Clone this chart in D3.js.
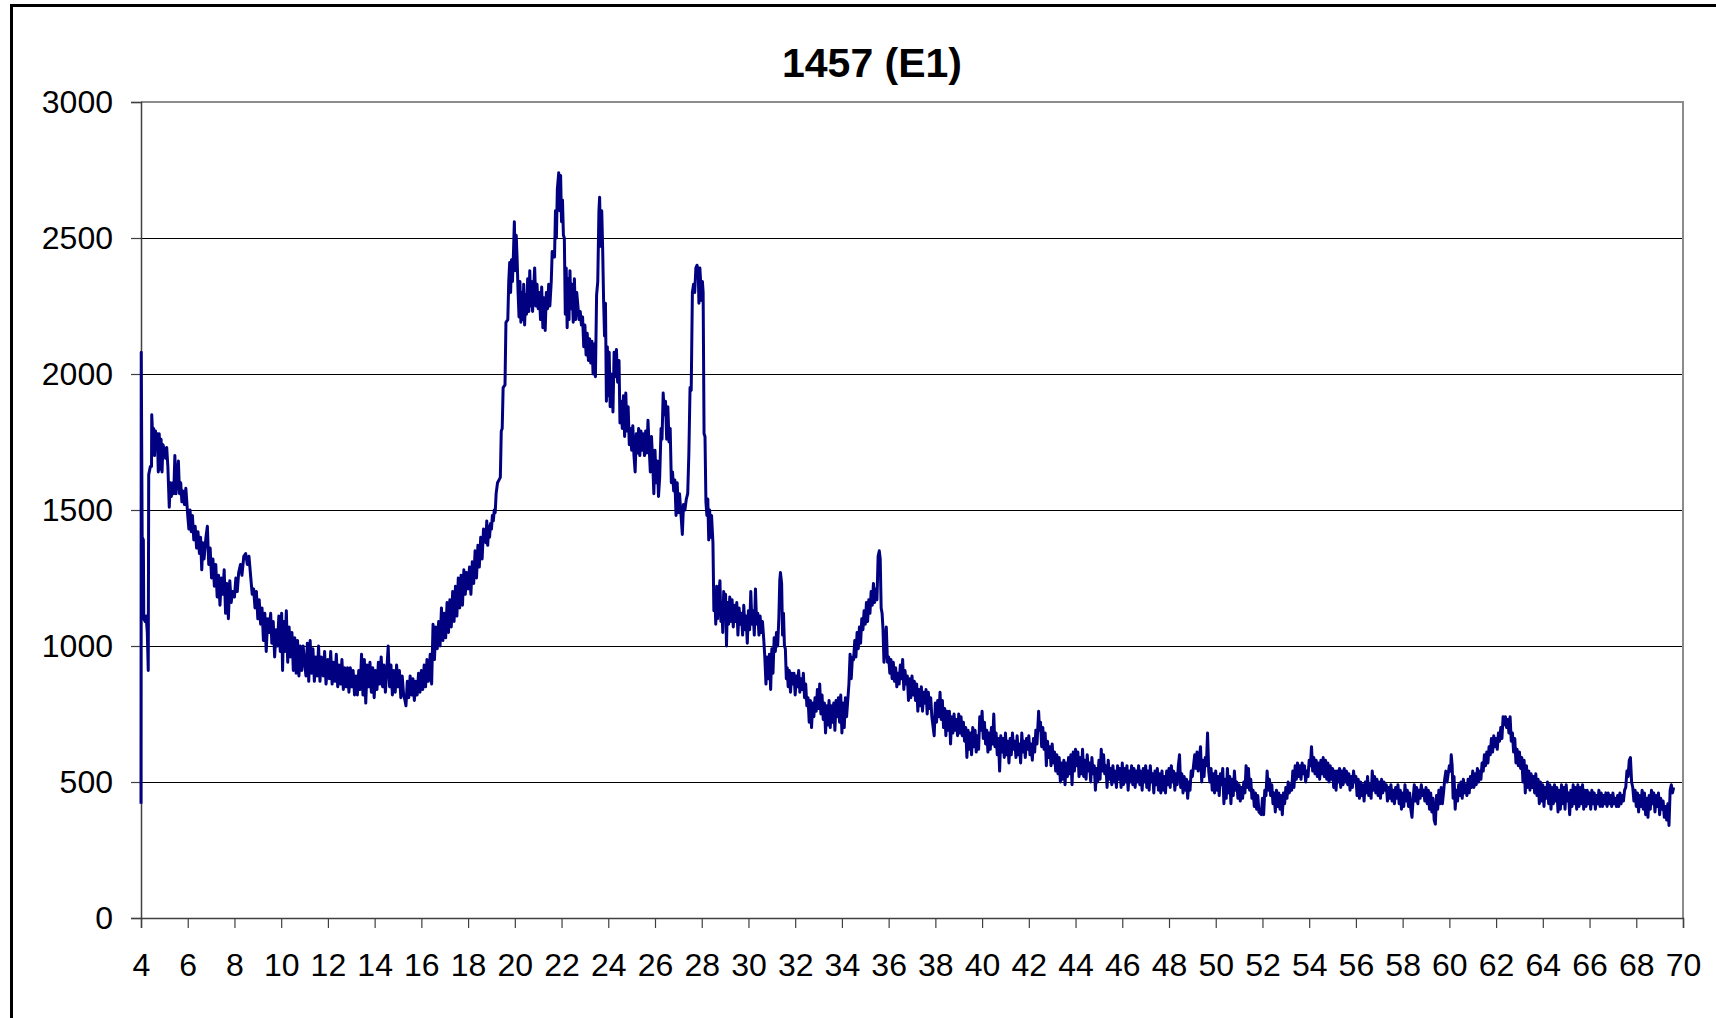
<!DOCTYPE html>
<html lang="en">
<head>
  <meta charset="utf-8">
  <title>1457 (E1)</title>
  <script src="https://cdn.jsdelivr.net/npm/d3@7"></script>
  <style>
    body { margin: 0; background: #fff; font-family: "Liberation Sans", Arial, sans-serif; }
  </style>
</head>
<body>
<div id="chart"></div>
<script>

const w = 1716;
const h = 1018;

// diffractogram: [2theta, counts]
const scan04to10 = [
  [4.00,420],[4.01,2080],[4.05,1400],[4.10,1390],[4.12,1100],[4.18,1090],[4.22,1110],[4.27,1050],[4.31,910],
  [4.33,1630],[4.40,1660],[4.45,1660],[4.46,1850],[4.50,1770],[4.54,1800],[4.58,1700],[4.62,1790],[4.66,1750],
  [4.70,1780],[4.74,1640],[4.78,1780],[4.82,1650],[4.86,1760],[4.90,1640],[4.94,1740],[5.00,1720],[5.05,1690],
  [5.10,1730],[5.15,1660],[5.21,1510],[5.25,1600],[5.30,1550],[5.36,1600],[5.40,1560],[5.45,1700],[5.50,1560],
  [5.55,1620],[5.60,1680],[5.65,1560],[5.70,1600],[5.75,1530],[5.80,1570],[5.86,1520],[5.92,1580],[6.00,1480],
  [6.05,1430],[6.10,1500],[6.15,1420],[6.20,1480],[6.26,1390],[6.32,1440],[6.38,1360],[6.44,1420],[6.50,1340],
  [6.55,1400],[6.60,1280],[6.65,1380],[6.70,1320],[6.78,1400],[6.84,1440],[6.90,1300],[6.96,1360],[7.02,1250],
  [7.08,1320],[7.14,1220],[7.20,1300],[7.26,1180],[7.32,1260],[7.38,1150],[7.44,1250],[7.50,1190],[7.56,1280],
  [7.62,1120],[7.68,1230],[7.74,1100],[7.80,1240],[7.86,1160],[7.92,1200],[8.00,1180],[8.06,1250],[8.12,1200],
  [8.18,1270],[8.26,1300],[8.32,1260],[8.40,1330],[8.48,1340],[8.55,1300],[8.62,1330],[8.70,1250],[8.76,1190],
  [8.82,1210],[8.88,1140],[8.94,1200],[9.00,1100],[9.06,1170],[9.12,1080],[9.18,1140],[9.24,1020],[9.30,1120],
  [9.36,980],[9.42,1100],[9.48,1050],[9.55,1120],[9.60,1010],[9.66,1090],[9.72,960],[9.78,1060],[9.84,1000],
  [9.90,1110],[9.96,980]
];

const scan10to19 = [
  [10.02,1120],[10.06,910],[10.10,1090],[10.16,980],[10.22,1130],[10.28,940],[10.34,1070],[10.40,960],
  [10.46,1050],[10.52,910],[10.58,1030],[10.64,900],[10.70,1020],[10.76,890],[10.82,1000],[10.88,910],
  [10.94,1000],[11.00,940],[11.06,890],[11.12,1010],[11.18,870],[11.24,1020],[11.30,900],[11.36,990],
  [11.42,870],[11.48,960],[11.54,890],[11.60,1000],[11.66,870],[11.72,960],[11.80,890],[11.86,980],[11.92,860],
  [12.00,950],[12.06,880],[12.12,980],[12.18,860],[12.24,940],[12.30,870],[12.36,970],[12.42,850],[12.48,930],
  [12.54,860],[12.60,950],[12.66,840],[12.72,920],[12.78,850],[12.84,920],[12.90,830],[12.96,920],[13.02,850],
  [13.08,910],[13.14,820],[13.20,890],[13.26,820],[13.32,910],[13.38,840],[13.44,970],[13.50,820],[13.56,950],
  [13.62,790],[13.68,930],[13.74,850],[13.80,940],[13.86,830],[13.92,920],[13.98,810],[14.04,910],[14.10,840],
  [14.16,940],[14.22,860],[14.28,960],[14.34,850],[14.40,930],[14.46,830],[14.52,910],[14.58,1000],[14.64,850],
  [14.70,930],[14.76,820],[14.82,910],[14.88,830],[14.94,930],[15.00,850],[15.06,910],[15.12,810],[15.18,890],
  [15.24,820],[15.30,800],[15.34,780],[15.40,870],[15.46,810],[15.52,890],[15.58,820],[15.64,880],[15.70,800],
  [15.76,870],[15.82,820],[15.88,900],[15.94,830],[16.00,910],[16.06,840],[16.12,930],[16.18,850],[16.24,950],
  [16.30,870],[16.38,970],[16.44,860],[16.50,1080],[16.56,950],[16.62,1070],[16.68,990],[16.74,1090],
  [16.80,1000],[16.86,1140],[16.92,1020],[16.98,1120],[17.04,1030],[17.10,1160],[17.16,1050],[17.22,1170],
  [17.28,1070],[17.34,1200],[17.40,1090],[17.46,1220],[17.52,1110],[17.58,1250],[17.64,1140],[17.70,1260],
  [17.76,1150],[17.82,1280],[17.88,1190],[17.94,1270],[18.00,1210],[18.06,1290],[18.12,1190],[18.18,1310],
  [18.24,1230],[18.30,1350],[18.36,1250],[18.42,1370],[18.48,1290],[18.54,1400],[18.60,1320],[18.66,1430]
];

const scan19to29 = [
  [18.72,1420],[18.76,1380],[18.80,1460],[18.84,1370],[18.88,1440],[18.92,1400],[18.96,1450],[19.00,1430],
  [19.04,1480],[19.08,1460],[19.12,1500],[19.16,1490],[19.20,1560],[19.26,1600],[19.32,1610],[19.38,1620],
  [19.42,1790],[19.46,1800],[19.50,1950],[19.58,1960],[19.62,2190],[19.70,2200],[19.74,2340],[19.78,2410],
  [19.82,2300],[19.86,2420],[19.90,2340],[19.94,2440],[19.98,2560],[20.02,2380],[20.06,2510],[20.10,2420],
  [20.14,2300],[20.18,2210],[20.22,2340],[20.26,2190],[20.30,2300],[20.34,2200],[20.38,2330],[20.42,2180],
  [20.46,2290],[20.50,2220],[20.55,2350],[20.60,2230],[20.64,2380],[20.68,2250],[20.72,2340],[20.76,2230],
  [20.80,2300],[20.85,2390],[20.90,2250],[20.95,2330],[21.00,2240],[21.05,2300],[21.10,2200],[21.15,2320],
  [21.20,2170],[21.25,2280],[21.30,2160],[21.35,2300],[21.40,2240],[21.45,2330],[21.50,2250],[21.56,2340],
  [21.60,2450],[21.65,2440],[21.70,2430],[21.74,2600],[21.78,2500],[21.82,2680],[21.88,2740],[21.92,2600],
  [21.96,2730],[22.00,2560],[22.04,2640],[22.08,2510],[22.12,2500],[22.16,2220],[22.20,2390],[22.24,2170],
  [22.28,2350],[22.32,2200],[22.36,2380],[22.40,2240],[22.45,2330],[22.50,2190],[22.55,2350],[22.60,2200],
  [22.65,2300],[22.70,2250],[22.75,2200],[22.80,2230],[22.85,2180],[22.90,2210],[22.95,2100],[23.00,2180],
  [23.05,2070],[23.10,2150],[23.15,2050],[23.20,2130],[23.25,2040],[23.30,2120],[23.35,2000],[23.40,2110],
  [23.45,1990],[23.50,2290],[23.55,2340],[23.60,2600],[23.63,2650],[23.67,2470],[23.72,2600],[23.76,2460],
  [23.80,2270],[23.84,2140],[23.88,2260],[23.92,1900],[23.96,2100],[24.00,1920],[24.04,2080],[24.08,1880],
  [24.12,2000],[24.16,1990],[24.20,1860],[24.25,2080],[24.30,1990],[24.35,2090],[24.40,1970],[24.46,2050],
  [24.50,1820],[24.55,1900],[24.60,1800],[24.65,1920],[24.70,1770],[24.75,1930],[24.80,1790],[24.85,1880],
  [24.90,1740],[24.95,1800],[25.00,1720],[25.05,1810],[25.10,1700],[25.15,1640],[25.20,1780],[25.25,1710],
  [25.30,1800],[25.35,1700],[25.40,1790],[25.45,1720],[25.50,1780],[25.55,1700],[25.60,1790],[25.65,1710],
  [25.70,1830],[25.75,1730],[25.80,1640],[25.85,1770],[25.90,1680],[25.95,1560],[26.00,1720],[26.05,1600],
  [26.10,1680],[26.15,1550],[26.20,1620],[26.26,1800],[26.30,1760],[26.35,1930],[26.40,1850],[26.45,1900],
  [26.50,1760],[26.55,1880],[26.60,1750],[26.65,1800],[26.70,1600],[26.75,1640],[26.80,1570],[26.85,1610],
  [26.90,1480],[26.95,1600],[27.00,1490],[27.05,1560],[27.10,1500],[27.17,1410],[27.22,1520],[27.28,1500],
  [27.34,1540],[27.40,1560],[27.45,1710],[27.50,1950],[27.55,1940],[27.60,2300],[27.65,2330],[27.70,2300],
  [27.75,2390],[27.80,2400],[27.85,2380],[27.88,2260],[27.92,2390],[27.96,2330],[28.00,2270],[28.03,2340],
  [28.06,2300],[28.10,1780],[28.14,1770],[28.18,1530],[28.22,1480],[28.26,1540],[28.30,1390],[28.34,1500],
  [28.38,1400],[28.42,1480],[28.48,1380]
];

const scan29to36 = [
  [28.52,1130],[28.56,1200],[28.60,1080],[28.64,1220],[28.68,1100],[28.72,1180],[28.78,1240],[28.82,1090],
  [28.86,1160],[28.90,1050],[28.94,1200],[28.98,1120],[29.02,1190],[29.06,1000],[29.10,1160],[29.15,1080],
  [29.20,1180],[29.25,1090],[29.30,1170],[29.35,1070],[29.40,1150],[29.45,1090],[29.50,1160],[29.55,1040],
  [29.60,1140],[29.65,1080],[29.70,1120],[29.75,1040],[29.80,1150],[29.85,1060],[29.90,1110],[29.95,1010],
  [30.00,1130],[30.05,1060],[30.10,1200],[30.15,1080],[30.20,1130],[30.25,1040],[30.30,1210],[30.35,1080],
  [30.40,1120],[30.45,1040],[30.50,1110],[30.55,1050],[30.60,1090],[30.65,1030],[30.70,960],[30.75,860],
  [30.80,960],[30.85,880],[30.90,970],[30.95,840],[31.00,990],[31.05,900],[31.10,1030],[31.15,980],[31.20,1050],
  [31.25,1000],[31.30,1100],[31.34,1240],[31.37,1270],[31.42,1230],[31.46,1040],[31.50,1120],[31.54,1000],
  [31.58,990],[31.62,880],[31.66,920],[31.70,850],[31.75,910],[31.80,830],[31.85,900],[31.90,860],[31.95,900],
  [32.00,820],[32.05,890],[32.10,850],[32.15,910],[32.20,830],[32.25,880],[32.30,840],[32.35,900],[32.40,810],
  [32.45,860],[32.50,780],[32.55,810],[32.60,720],[32.65,800],[32.70,700],[32.75,790],[32.80,740],[32.85,810],
  [32.90,760],[32.95,840],[33.00,770],[33.05,860],[33.10,750],[33.15,820],[33.20,730],[33.25,790],[33.30,680],
  [33.35,780],[33.40,710],[33.45,800],[33.50,700],[33.55,780],[33.60,720],[33.65,790],[33.70,690],[33.75,800],
  [33.80,740],[33.85,810],[33.90,720],[33.95,820],[34.00,680],[34.05,790],[34.10,700],[34.15,810],[34.20,740],
  [34.25,800],[34.30,860],[34.35,970],[34.40,880],[34.45,960],[34.50,950],[34.55,1020],[34.60,960],[34.65,1050],
  [34.70,990],[34.75,1070],[34.80,1010],[34.85,1100],[34.90,1060],[34.95,1130],[35.00,1080],[35.05,1160],
  [35.10,1090],[35.15,1170],[35.20,1120],[35.25,1200],[35.30,1150],[35.35,1230],[35.40,1160],[35.45,1210],
  [35.50,1170],[35.55,1330],[35.60,1350],[35.64,1320],[35.68,1140],[35.72,1120],[35.76,1060],[35.80,940],
  [35.85,1000],[35.90,1070],[35.95,940]
];

const scan36to48 = [
  [36.00,960],[36.05,900],[36.10,950],[36.15,880],[36.20,940],[36.25,870],[36.30,920],[36.35,850],[36.40,900],
  [36.45,860],[36.50,930],[36.55,880],[36.60,950],[36.65,840],[36.70,910],[36.75,860],[36.80,890],[36.85,800],
  [36.90,880],[36.95,810],[37.00,890],[37.05,820],[37.10,870],[37.15,800],[37.20,860],[37.25,760],[37.30,840],
  [37.35,780],[37.40,850],[37.45,760],[37.50,830],[37.55,790],[37.60,840],[37.65,750],[37.70,830],[37.75,770],
  [37.80,810],[37.85,740],[37.95,670],[38.00,790],[38.05,720],[38.10,800],[38.15,740],[38.20,830],[38.25,730],
  [38.30,800],[38.35,700],[38.40,770],[38.45,670],[38.50,760],[38.55,690],[38.60,760],[38.65,640],[38.70,740],
  [38.75,680],[38.80,750],[38.85,690],[38.90,730],[38.95,670],[39.00,750],[39.05,680],[39.10,740],[39.15,670],
  [39.20,720],[39.25,650],[39.30,700],[39.35,590],[39.40,690],[39.45,620],[39.50,680],[39.55,600],[39.60,700],
  [39.65,630],[39.70,690],[39.75,610],[39.80,670],[39.85,620],[39.90,740],[39.95,690],[40.00,760],[40.05,660],
  [40.10,720],[40.15,640],[40.20,690],[40.25,610],[40.30,680],[40.35,620],[40.40,700],[40.45,640],[40.50,750],
  [40.55,630],[40.60,680],[40.65,600],[40.70,660],[40.75,540],[40.80,670],[40.85,610],[40.90,660],[40.95,590],
  [41.00,680],[41.05,600],[41.10,650],[41.15,570],[41.20,660],[41.25,600],[41.30,680],[41.35,620],[41.40,650],
  [41.45,590],[41.50,670],[41.55,600],[41.60,640],[41.65,570],[41.70,680],[41.75,610],[41.80,650],[41.85,590],
  [41.90,660],[41.95,620],[42.00,670],[42.05,600],[42.10,640],[42.15,580],[42.20,660],[42.25,610],[42.30,690],
  [42.35,640],[42.42,760],[42.46,690],[42.50,720],[42.55,630],[42.60,700],[42.65,620],[42.70,680],[42.75,560],
  [42.80,650],[42.85,590],[42.90,630],[42.95,560],[43.00,640],[43.05,570],[43.10,610],[43.15,540],[43.20,600],
  [43.25,530],[43.30,590],[43.35,500],[43.40,570],[43.45,510],[43.50,580],[43.55,490],[43.60,570],[43.65,520],
  [43.70,590],[43.75,530],[43.80,600],[43.85,490],[43.90,610],[43.95,540],[44.00,620],[44.05,560],[44.10,610],
  [44.15,520],[44.20,590],[44.25,530],[44.30,620],[44.35,520],[44.40,580],[44.45,510],[44.50,600],[44.55,540],
  [44.60,570],[44.65,500],[44.70,590],[44.75,530],[44.80,560],[44.85,470],[44.90,550],[44.95,500],[45.00,580],
  [45.05,510],[45.10,620],[45.15,540],[45.20,600],[45.25,530],[45.30,560],[45.35,480],[45.40,580],[45.45,510],
  [45.50,550],[45.55,490],[45.60,560],[45.65,500],[45.70,540],[45.75,480],[45.80,560],[45.85,510],[45.90,550],
  [45.95,480],[46.00,570],[46.05,490],[46.10,550],[46.15,500],[46.20,560],[46.25,470],[46.30,540],[46.35,500],
  [46.40,560],[46.45,490],[46.50,550],[46.55,480],[46.60,540],[46.65,500],[46.70,560],[46.75,490],[46.80,540],
  [46.85,470],[46.90,550],[46.95,500],[47.00,560],[47.05,480],[47.10,540],[47.15,470],[47.20,560],[47.25,500],
  [47.30,530],[47.35,460],[47.40,540],[47.45,490],[47.50,550],[47.55,470],[47.60,530]
];

const scan48to59 = [
  [47.65,460],[47.70,540],[47.75,470],[47.80,520],[47.85,460],[47.90,540],[47.95,490],[48.00,550],[48.05,480],
  [48.10,560],[48.15,500],[48.20,540],[48.25,470],[48.30,530],[48.35,490],[48.40,560],[48.45,600],[48.50,480],
  [48.55,530],[48.60,460],[48.65,520],[48.70,470],[48.75,510],[48.80,440],[48.85,500],[48.90,470],[48.95,540],
  [49.00,520],[49.05,560],[49.10,600],[49.15,550],[49.20,610],[49.25,540],[49.30,590],[49.35,630],[49.40,500],
  [49.45,580],[49.50,520],[49.55,590],[49.60,560],[49.65,680],[49.70,540],[49.75,500],[49.80,550],[49.85,470],
  [49.90,530],[49.95,460],[50.00,540],[50.05,470],[50.10,520],[50.15,450],[50.20,530],[50.25,490],[50.30,550],
  [50.35,420],[50.40,510],[50.45,440],[50.50,550],[50.55,460],[50.60,520],[50.65,420],[50.70,510],[50.75,450],
  [50.80,540],[50.85,470],[50.90,500],[50.95,440],[51.00,490],[51.05,430],[51.10,480],[51.15,440],[51.20,500],
  [51.25,460],[51.30,560],[51.35,480],[51.40,550],[51.45,470],[51.50,510],[51.55,440],[51.60,470],[51.65,410],
  [51.70,460],[51.75,400],[51.80,450],[51.85,390],[51.95,380],[52.00,440],[52.05,380],[52.10,470],[52.15,450],
  [52.20,540],[52.25,470],[52.30,510],[52.35,450],[52.40,490],[52.45,420],[52.50,460],[52.55,390],[52.60,470],
  [52.65,410],[52.70,460],[52.75,400],[52.80,450],[52.85,380],[52.90,460],[52.95,420],[53.00,480],[53.05,440],
  [53.10,500],[53.15,460],[53.20,490],[53.25,470],[53.30,540],[53.35,480],[53.40,560],[53.45,510],[53.50,570],
  [53.55,520],[53.60,560],[53.65,510],[53.70,570],[53.75,530],[53.80,560],[53.85,500],[53.90,540],[53.95,520],
  [54.00,580],[54.05,560],[54.10,630],[54.15,540],[54.20,590],[54.25,530],[54.30,580],[54.35,520],[54.40,570],
  [54.45,510],[54.50,580],[54.55,530],[54.60,590],[54.65,520],[54.70,580],[54.75,510],[54.80,570],[54.85,500],
  [54.90,560],[54.95,510],[55.00,550],[55.05,480],[55.10,540],[55.15,470],[55.20,540],[55.25,500],[55.30,550],
  [55.35,480],[55.40,540],[55.45,490],[55.50,550],[55.55,500],[55.60,540],[55.65,490],[55.70,530],[55.75,470],
  [55.80,520],[55.85,480],[55.90,540],[55.95,500],[56.00,520],[56.05,450],[56.10,510],[56.15,440],[56.20,500],
  [56.25,450],[56.30,490],[56.35,430],[56.40,500],[56.45,460],[56.50,520],[56.55,450],[56.60,490],[56.65,440],
  [56.70,540],[56.75,470],[56.80,520],[56.85,460],[56.90,510],[56.95,450],[57.00,500],[57.05,440],[57.10,510],
  [57.15,460],[57.20,500],[57.25,470],[57.30,490],[57.35,430],[57.40,480],[57.45,440],[57.50,490],[57.55,430],
  [57.60,470],[57.65,420],[57.70,480],[57.75,440],[57.80,490],[57.85,420],[57.90,470],[57.95,400],[58.00,460],
  [58.05,410],[58.10,490],[58.15,430],[58.20,470],[58.25,410],[58.30,460],[58.35,400],[58.40,370],[58.45,440],
  [58.50,490],[58.55,430],[58.60,480],[58.65,420],[58.70,470]
];

const scan59to70 = [
  [58.75,440],[58.80,490],[58.85,450],[58.90,470],[58.95,430],[59.00,480],[59.05,420],[59.10,470],[59.15,400],
  [59.20,460],[59.25,390],[59.30,440],[59.35,360],[59.40,345],[59.45,450],[59.50,400],[59.55,470],[59.60,420],
  [59.65,480],[59.70,420],[59.75,460],[59.80,510],[59.85,540],[59.90,500],[59.95,530],[60.00,560],[60.05,540],
  [60.08,600],[60.12,560],[60.16,440],[60.20,520],[60.25,400],[60.30,470],[60.35,430],[60.40,490],[60.45,450],
  [60.50,500],[60.55,440],[60.60,510],[60.65,460],[60.70,490],[60.75,450],[60.80,510],[60.85,460],[60.90,520],
  [60.95,480],[61.00,540],[61.05,480],[61.10,530],[61.15,490],[61.20,550],[61.25,500],[61.30,540],[61.35,510],
  [61.40,570],[61.45,540],[61.50,600],[61.55,560],[61.60,610],[61.65,570],[61.70,630],[61.75,600],[61.80,660],
  [61.85,610],[61.90,670],[61.95,630],[62.00,660],[62.05,620],[62.10,680],[62.15,650],[62.20,700],[62.25,660],
  [62.30,740],[62.35,710],[62.40,740],[62.45,700],[62.50,730],[62.55,680],[62.60,740],[62.65,650],[62.70,680],
  [62.75,610],[62.80,660],[62.85,570],[62.90,620],[62.95,560],[63.00,610],[63.05,550],[63.10,590],[63.15,500],
  [63.20,580],[63.25,460],[63.30,560],[63.35,480],[63.40,540],[63.45,470],[63.50,530],[63.55,480],[63.60,520],
  [63.65,460],[63.70,530],[63.75,450],[63.80,510],[63.85,420],[63.90,500],[63.95,430],[64.00,490],[64.05,410],
  [64.10,480],[64.15,440],[64.20,500],[64.25,420],[64.30,490],[64.35,400],[64.40,480],[64.45,420],[64.50,490],
  [64.55,430],[64.60,480],[64.65,390],[64.70,470],[64.75,400],[64.80,490],[64.85,420],[64.90,480],[64.95,400],
  [65.00,490],[65.05,430],[65.10,460],[65.15,380],[65.20,470],[65.25,410],[65.30,490],[65.35,420],[65.40,480],
  [65.45,400],[65.50,490],[65.55,410],[65.60,480],[65.65,420],[65.70,490],[65.75,400],[65.80,470],[65.85,410],
  [65.90,470],[65.95,420],[66.00,460],[66.05,400],[66.10,470],[66.15,420],[66.20,460],[66.25,400],[66.30,450],
  [66.35,420],[66.40,470],[66.45,410],[66.50,460],[66.55,410],[66.60,450],[66.65,420],[66.70,460],[66.75,410],
  [66.80,460],[66.85,420],[66.90,450],[66.95,410],[67.00,460],[67.05,420],[67.10,440],[67.15,410],[67.20,450],
  [67.25,410],[67.30,460],[67.35,420],[67.40,450],[67.45,430],[67.50,470],[67.55,480],[67.60,540],[67.65,520],
  [67.70,580],[67.75,590],[67.80,500],[67.85,480],[67.90,430],[67.95,470],[68.00,410],[68.05,460],[68.10,390],
  [68.15,450],[68.20,410],[68.25,470],[68.30,400],[68.35,460],[68.40,380],[68.45,440],[68.50,370],[68.55,450],
  [68.60,400],[68.65,470],[68.70,420],[68.75,460],[68.80,390],[68.85,450],[68.90,410],[68.95,460],[69.00,380],
  [69.05,440],[69.10,400],[69.15,430],[69.20,370],[69.25,410],[69.30,360],[69.35,420],[69.40,340],[69.45,470],
  [69.50,490],[69.55,460],[69.60,480]
];

const yTicks = [0, 500, 1000, 1500, 2000, 2500, 3000];
const xTicks = [4, 6, 8, 10, 12, 14, 16, 18, 20, 22, 24, 26, 28, 30, 32, 34, 36,
                38, 40, 42, 44, 46, 48, 50, 52, 54, 56, 58, 60, 62, 64, 66, 68, 70];
const chartTitle = "1457 (E1)";

const scan = [].concat(scan04to10, scan10to19, scan19to29, scan29to36, scan36to48, scan48to59, scan59to70);

const plot = { left: 141, right: 1683, top: 102, bottom: 918 };

const x = d3.scaleLinear().domain([4, 70]).range([plot.left, plot.right]);
const y = d3.scaleLinear().domain([0, 3000]).range([plot.bottom, plot.top]);

const svg = d3.select("#chart")
  .append("svg")
  .attr("width", w)
  .attr("height", h)
  .style("display", "block");

svg.append("rect").attr("width", w).attr("height", h).attr("fill", "#fff");

// outer chart frame (runs off the bottom/right of the picture)
svg.append("rect")
  .attr("x", 11.5).attr("y", 5.5)
  .attr("width", w + 40).attr("height", h + 40)
  .attr("fill", "none")
  .attr("stroke", "#000")
  .attr("stroke-width", 3);

// gridlines
svg.append("g")
  .selectAll("line")
  .data(yTicks.filter(d => d > 0 && d < 3000))
  .enter()
  .append("line")
  .attr("x1", plot.left).attr("x2", plot.right)
  .attr("y1", d => Math.round(y(d)) + 0.5).attr("y2", d => Math.round(y(d)) + 0.5)
  .attr("stroke", "#000")
  .attr("stroke-width", 1);

// plot area border (top / right grey)
svg.append("path")
  .attr("d", `M${plot.left},${plot.top}H${plot.right}V${plot.bottom}`)
  .attr("fill", "none")
  .attr("stroke", "#8c8c8c")
  .attr("stroke-width", 2);

// y axis
const yAxis = svg.append("g")
  .attr("transform", `translate(${plot.left},0)`)
  .call(d3.axisLeft(y).tickValues(yTicks).tickSize(10).tickPadding(18).tickFormat(d3.format("d")));

// x axis
const xAxis = svg.append("g")
  .attr("transform", `translate(0,${plot.bottom})`)
  .call(d3.axisBottom(x).tickValues(xTicks).tickSize(10).tickPadding(25).tickFormat(d3.format("d")));

[yAxis, xAxis].forEach(ax => {
  ax.select(".domain").attr("stroke", "#404040").attr("stroke-width", 1.5);
  ax.selectAll(".tick line").attr("stroke", "#404040").attr("stroke-width", 1.2);
  ax.selectAll("text")
    .attr("fill", "#000")
    .style("font-family", '"Liberation Sans", Arial, sans-serif')
    .style("font-size", "32px");
});

// data line
const line = d3.line()
  .x(d => x(d[0]))
  .y(d => y(d[1]));

svg.append("path")
  .datum(scan)
  .attr("d", line)
  .attr("fill", "none")
  .attr("stroke", "#000080")
  .attr("stroke-width", 3)
  .attr("stroke-linejoin", "round");

// title
svg.append("text")
  .attr("x", 872)
  .attr("y", 77)
  .attr("text-anchor", "middle")
  .style("font-family", '"Liberation Sans", Arial, sans-serif')
  .style("font-weight", "bold")
  .style("font-size", "41px")
  .text(chartTitle);

</script>
</body>
</html>
